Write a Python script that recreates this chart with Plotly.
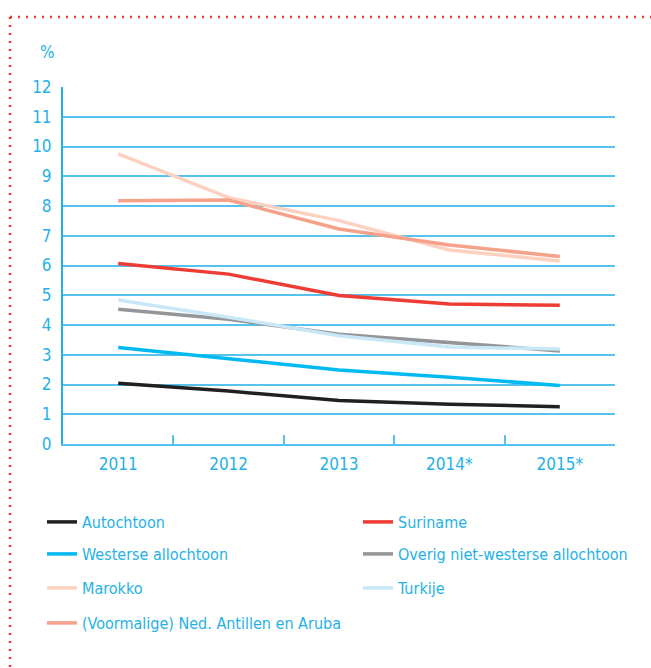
import plotly.graph_objects as go

years = ["2011", "2012", "2013", "2014*", "2015*"]
autochtoon = [2.04, 1.78, 1.46, 1.34, 1.25]
suriname = [6.07, 5.71, 4.99, 4.71, 4.66]
westerse = [3.24, 2.86, 2.49, 2.24, 1.97]
overig = [4.53, 4.19, 3.69, 3.41, 3.13]
marokko = [9.75, 8.28, 7.51, 6.52, 6.15]
turkije = [4.84, 4.26, 3.64, 3.26, 3.19]
antillen = [8.18, 8.20, 7.23, 6.69, 6.30]
y_ticks = list(range(0, 13))

BLUE = "#1fb1e8"
GRID = "#55c3ee"
FONT = "Liberation Sans Narrow, DejaVu Sans Condensed, Open Sans, sans-serif"

# (name, values, colour, legend column, legend row)
series = [
    ("Autochtoon", autochtoon, "#231f20", 0, 0),
    ("Suriname", suriname, "#ee3b33", 1, 0),
    ("Westerse allochtoon", westerse, "#00b9f1", 0, 1),
    ("Overig niet-westerse allochtoon", overig, "#939598", 1, 1),
    ("Marokko", marokko, "#fdd1bf", 0, 2),
    ("Turkije", turkije, "#c8e8f8", 1, 2),
    ("(Voormalige) Ned. Antillen en Aruba", antillen, "#f6a18a", 0, 3),
]

ROW_Y = [522, 554, 588, 623]
COL_X = [42, 358]

fig = go.Figure()
legends = {}
for i, (name, vals, color, col, row) in enumerate(series):
    lid = "legend" if i == 0 else f"legend{i + 1}"
    fig.add_trace(go.Scatter(
        x=years, y=vals, mode="lines", name=name,
        line=dict(color=color, width=3.5), legend=lid,
    ))
    legends[lid] = dict(
        orientation="v", x=(COL_X[col] - 63) / 552, xanchor="left",
        y=(444 - ROW_Y[row]) / 357, yanchor="middle",
        font=dict(family=FONT, size=16, color=BLUE),
        bgcolor="rgba(0,0,0,0)", itemclick=False, itemdoubleclick=False,
    )

fig.update_layout(
    width=651, height=668,
    margin=dict(l=63, r=36, t=87, b=224),
    plot_bgcolor="white", paper_bgcolor="white",
    font=dict(family=FONT, size=17, color=BLUE),
    showlegend=True,
    xaxis=dict(
        type="category", tickson="boundaries", ticks="inside", ticklen=9,
        tickcolor=GRID, tickwidth=2, showline=True, linecolor=GRID, linewidth=2,
        showgrid=False, range=[-0.5, 4.5], ticklabelstandoff=4,
        tickfont=dict(family=FONT, size=17, color=BLUE),
    ),
    yaxis=dict(
        range=[0, 12], tickvals=y_ticks, showgrid=True, gridcolor=GRID,
        gridwidth=1.5, showline=True, linecolor=BLUE, linewidth=2,
        zeroline=False, ticks="", ticklabelstandoff=6,
        tickfont=dict(family=FONT, size=17, color=BLUE),
    ),
    annotations=[dict(
        text="%", xref="paper", yref="paper",
        x=(47 - 63) / 552, y=(444 - 52) / 357, xanchor="center", yanchor="middle",
        showarrow=False, font=dict(family=FONT, size=17, color=BLUE),
    )],
    shapes=[
        dict(type="line", xref="paper", yref="paper",
             x0=(10 - 63) / 552, x1=(651 - 63) / 552,
             y0=(444 - 17) / 357, y1=(444 - 17) / 357,
             line=dict(color="#e8392f", width=2.5, dash="2px,6px")),
        dict(type="line", xref="paper", yref="paper",
             x0=(10 - 63) / 552, x1=(10 - 63) / 552,
             y0=(444 - 17) / 357, y1=(444 - 668) / 357,
             line=dict(color="#e8392f", width=2.5, dash="2px,6px")),
    ],
    **legends,
)

fig.write_html(
    "out.html",
    config={"displayModeBar": False},
    post_script="document.body.style.margin='0';document.body.style.overflow='hidden';",
)
